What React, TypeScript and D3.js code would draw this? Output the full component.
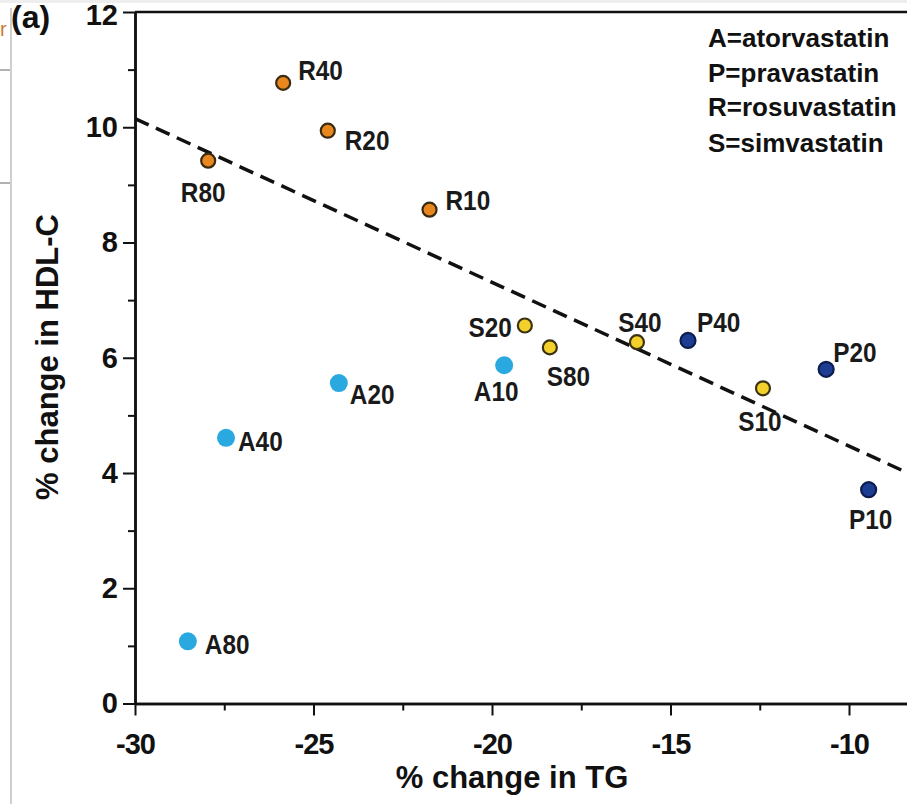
import React, { useEffect, useRef } from 'react';
import * as d3 from 'd3';

// statin / dose labels, % change in TG (x) and % change in HDL-C (y)
const rosuLabels = ['R40', 'R20', 'R80', 'R10'];
const rosuTG = [-25.85, -24.6, -27.95, -21.75];
const rosuHDL = [10.77, 9.94, 9.42, 8.57];

const simvaLabels = ['S20', 'S80', 'S40', 'S10'];
const simvaTG = [-19.08, -18.38, -15.94, -12.41];
const simvaHDL = [6.56, 6.18, 6.27, 5.47];

const pravaLabels = ['P40', 'P20', 'P10'];
const pravaTG = [-14.51, -10.64, -9.45];
const pravaHDL = [6.3, 5.8, 3.71];

const atorLabels = ['A10', 'A20', 'A40', 'A80'];
const atorTG = [-19.66, -24.29, -27.45, -28.52];
const atorHDL = [5.87, 5.56, 4.61, 1.08];

// dashed regression line, endpoints
const trendTG = [-30, -8];
const trendHDL = [10.15, 3.9];

const xTicks = [-30, -25, -20, -15, -10];
const xMinorTicks = [-27.5, -22.5, -17.5, -12.5];
const yTicks = [0, 2, 4, 6, 8, 10, 12];
const yMinorTicks = [1, 3, 5, 7, 9, 11];

const legendLines = ['A=atorvastatin', 'P=pravastatin', 'R=rosuvastatin', 'S=simvastatin'];

interface Pt {
  label: string;
  tg: number;
  hdl: number;
  fill: string;
  stroke: string;
  r: number;
}

// label placement relative to marker: [anchor, dx, dy]
const labelPos: Record<string, [string, number, number]> = {
  R40: ['start', 15, -3],
  R20: ['start', 17, 19],
  R80: ['middle', -5, 41],
  R10: ['start', 16, 0],
  S20: ['end', -13, 12],
  S80: ['start', -3, 39],
  S40: ['middle', 3, -10],
  S10: ['middle', -3, 43],
  P40: ['start', 9, -8],
  P20: ['start', 7, -7],
  P10: ['middle', 2, 39],
  A10: ['middle', -8, 36],
  A20: ['start', 11, 21],
  A40: ['start', 12, 13],
  A80: ['start', 17, 13],
};

const W = 907;
const H = 804;
const FONT = 'Arial, "Liberation Sans", Helvetica, sans-serif';

export default function App() {
  const svgRef = useRef<SVGSVGElement>(null);

  useEffect(() => {
    if (!svgRef.current) return;
    const svg = d3.select(svgRef.current);
    svg.selectAll('*').remove();

    const x = d3.scaleLinear().domain([-30, -8]).range([135, 135 + 22 * 35.7]);
    const y = d3.scaleLinear().domain([0, 12]).range([703.5, 12]);

    // page leftovers around the cropped figure
    svg.append('rect').attr('x', 0).attr('y', 0).attr('width', W).attr('height', 3).attr('fill', '#eeeeee');
    svg.append('line').attr('x1', 11).attr('x2', 11).attr('y1', 8).attr('y2', H)
      .attr('stroke', '#cfcfcf').attr('stroke-width', 2);
    [70, 183].forEach(yy => {
      svg.append('line').attr('x1', 0).attr('x2', 10).attr('y1', yy).attr('y2', yy)
        .attr('stroke', '#999').attr('stroke-width', 1.5);
    });
    svg.append('text').attr('x', 0).attr('y', 36).attr('font-family', FONT)
      .attr('font-size', '20px').attr('fill', '#c87a3a').text('r');

    const g = svg.append('g').attr('font-family', FONT);

    // axes
    const styleAxis = (sel: d3.Selection<SVGGElement, unknown, null, undefined>) => {
      sel.select('.domain').attr('stroke', '#111').attr('stroke-width', 2.5);
      sel.selectAll('.tick line').attr('stroke', '#111').attr('stroke-width', 2);
      sel.selectAll('.tick text')
        .attr('fill', '#111')
        .attr('font-size', '29px')
        .attr('font-weight', 'bold')
        .attr('font-family', FONT);
    };

    const yAxis = g.append('g').attr('transform', `translate(${x(-30)},0)`)
      .call(d3.axisLeft(y).tickValues(yTicks).tickSize(12).tickSizeOuter(0).tickPadding(5)
        .tickFormat(d => String(d)));
    styleAxis(yAxis);
    // keep the top label inside the page
    yAxis.selectAll<SVGTextElement, number>('.tick text').attr('dy', d => (d === 12 ? '0.42em' : '0.32em'));
    const yMinor = g.append('g').attr('transform', `translate(${x(-30)},0)`)
      .call(d3.axisLeft(y).tickValues(yMinorTicks).tickSize(7).tickSizeOuter(0).tickFormat(() => ''));
    styleAxis(yMinor);

    const xAxis = g.append('g').attr('transform', `translate(0,${y(0)})`)
      .call(d3.axisBottom(x).tickValues(xTicks).tickSize(12).tickSizeOuter(0).tickPadding(18)
        .tickFormat(d => String(d)));
    styleAxis(xAxis);
    xAxis.selectAll('.tick text').attr('letter-spacing', '-1px');
    const xMinor = g.append('g').attr('transform', `translate(0,${y(0)})`)
      .call(d3.axisBottom(x).tickValues(xMinorTicks).tickSize(7).tickSizeOuter(0).tickFormat(() => ''));
    styleAxis(xMinor);

    // top frame
    g.append('line')
      .attr('x1', x(-30)).attr('x2', x(-8))
      .attr('y1', y(12)).attr('y2', y(12))
      .attr('stroke', '#111').attr('stroke-width', 2.5);

    // axis titles
    g.append('text')
      .attr('x', 512).attr('y', 788)
      .attr('text-anchor', 'middle')
      .attr('font-size', '31px').attr('font-weight', 'bold').attr('fill', '#111')
      .text('% change in TG');
    g.append('text')
      .attr('transform', `translate(58,${357}) rotate(-90)`)
      .attr('text-anchor', 'middle')
      .attr('font-size', '31px').attr('font-weight', 'bold').attr('fill', '#111')
      .text('% change in HDL-C');

    g.append('text')
      .attr('x', 11).attr('y', 28)
      .attr('font-size', '32px').attr('font-weight', 'bold').attr('fill', '#111')
      .text('(a)');

    // regression line
    const trend = d3.line<number>()
      .x((_, i) => x(trendTG[i]))
      .y(d => y(d));
    g.append('path')
      .datum(trendHDL)
      .attr('fill', 'none')
      .attr('stroke', '#111')
      .attr('stroke-width', 3.5)
      .attr('stroke-dasharray', '15 8')
      .attr('d', trend);

    const build = (labels: string[], tg: number[], hdl: number[], fill: string, stroke: string, r: number): Pt[] =>
      labels.map((label, i) => ({ label, tg: tg[i], hdl: hdl[i], fill, stroke, r }));

    const points: Pt[] = [
      ...build(rosuLabels, rosuTG, rosuHDL, '#e8871e', '#3b2a12', 7),
      ...build(simvaLabels, simvaTG, simvaHDL, '#f3d12a', '#3b3212', 7),
      ...build(pravaLabels, pravaTG, pravaHDL, '#1c3d91', '#0c1c4c', 7.5),
      ...build(atorLabels, atorTG, atorHDL, '#2aa9e0', 'none', 9),
    ];

    g.selectAll('circle.pt')
      .data(points)
      .join('circle')
      .attr('class', 'pt')
      .attr('cx', d => x(d.tg))
      .attr('cy', d => y(d.hdl))
      .attr('r', d => d.r)
      .attr('fill', d => d.fill)
      .attr('stroke', d => d.stroke)
      .attr('stroke-width', 2.2);

    g.selectAll('text.lbl')
      .data(points)
      .join('text')
      .attr('class', 'lbl')
      .attr('transform', d => {
        const [, dx, dy] = labelPos[d.label];
        return `translate(${x(d.tg) + dx},${y(d.hdl) + dy}) scale(0.87,1)`;
      })
      .attr('text-anchor', d => labelPos[d.label][0])
      .attr('font-size', '28px')
      .attr('font-weight', 'bold')
      .attr('fill', '#1a1a1a')
      .text(d => d.label);

    // legend
    const legend = g.append('g').attr('transform', 'translate(708,0)');
    const baselines = [47, 82, 116, 152];
    legendLines.forEach((t, i) => {
      legend.append('text')
        .attr('x', 0).attr('y', baselines[i])
        .attr('font-size', '26px').attr('font-weight', 'bold').attr('fill', '#111')
        .text(t);
    });
  }, []);

  return (
    <svg
      ref={svgRef}
      width={W}
      height={H}
      style={{ position: 'absolute', left: 0, top: 0, background: '#fff' }}
    />
  );
}
